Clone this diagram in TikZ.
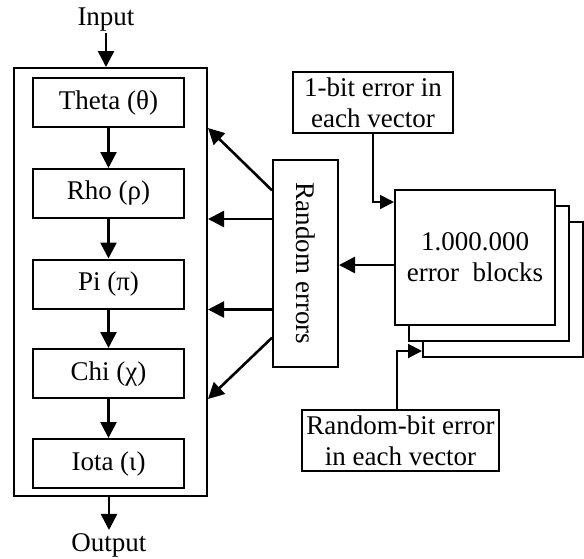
\documentclass[tikz,border=0pt]{standalone}
\usepackage{fontspec}
\setmainfont{Liberation Serif}
\usetikzlibrary{arrows.meta,calc}
\tikzset{
  txt/.style = {inner sep=3pt, font=\fontsize{27}{31}\selectfont, align=center},
  step_box/.style = {txt, draw=black, line width=2pt, inner sep=0pt,
    minimum width=151pt, minimum height=49pt},% one step of the round
  err_box/.style = {txt, draw=black, line width=2pt, inner sep=0pt,
    minimum width=160pt, minimum height=61pt},% error source
  blk_box/.style = {txt, draw=black, fill=white, line width=2pt, inner sep=0pt,
    minimum width=160pt, minimum height=135pt},% stack of blocks
  arr/.style = {-{Triangle[length=16pt,width=16pt]}, line width=2.6pt},
  thin_arr/.style = {-{Triangle[length=14pt,width=14pt]}, line width=2pt}
}

\begin{document}
\begin{tikzpicture}[x=1pt,y=-1pt]
\useasboundingbox (0,0) rectangle (584,558);

% the round
\node [draw, line width=2pt, minimum width=193pt, minimum height=428pt] (round) at (110.5,282) {};
\node [step_box] (theta) at (108.5,102.5) {Theta (θ)};
\node [step_box] (rho)   at (108.5,193.5) {Rho (ρ)};
\node [step_box] (pi)    at (108.5,284)   {Pi (π)};
\node [step_box] (chi)   at (108.5,373.5) {Chi (χ)};
\node [step_box] (iota)  at (108.5,463.5) {Iota (ι)};
\node [txt, inner sep=1pt] (input)  at (106,20)  {Input};
\node [txt] (output) at (109,545) {Output};

\draw [arr] (input) -- (input |- round.north);
\draw [arr] (theta) -- (rho);
\draw [arr] (rho) -- (pi);
\draw [arr] (pi) -- (chi);
\draw [arr] (chi) -- (iota);
\draw [arr] (round.south -| output) -- (output);

% error injection
\node [txt, draw, line width=2pt, minimum width=65pt, minimum height=207pt] (rand) at (305.5,263.5) {};
\node [txt, rotate=-90] (randlbl) at (rand.center) {Random errors};
\coordinate (r_top) at ($(rand.north west)!0.15!(rand.south west)$);
\coordinate (r_bot) at ($(rand.north west)!0.855!(rand.south west)$);
\draw [arr] (r_top) -- (round.east |- theta.south);
\draw [arr] (rand.west |- rho.south) -- (round.east |- rho.south);
\draw [arr] (rand.west |- pi.south) -- (round.east |- pi.south);
\draw [arr] (r_bot) -- (round.east |- chi.south);

\node [blk_box] (blk3) at (503,289.5) {};
\node [blk_box] (blk2) at (489,273.5) {};
\node [blk_box] (blocks) at (475,257.5) {1.000.000\\error\ \ blocks};
\draw [arr] ([yshift=-7.5pt]blocks.west) -- ([yshift=-7.5pt]blocks.west -| rand.east);

\node [err_box] (onebit) at (373,102.5) {1-bit error in\\each vector};
\node [err_box, minimum width=197pt] (randbit) at (400.5,440.5) {Random-bit error\\in each vector};
\draw [thin_arr] (onebit.south) |- ([yshift=-13pt]blocks.north west);
\draw [thin_arr] ([xshift=-3.5pt]randbit.north) |- ([yshift=7pt]blk3.south west);
\end{tikzpicture}
\end{document}
